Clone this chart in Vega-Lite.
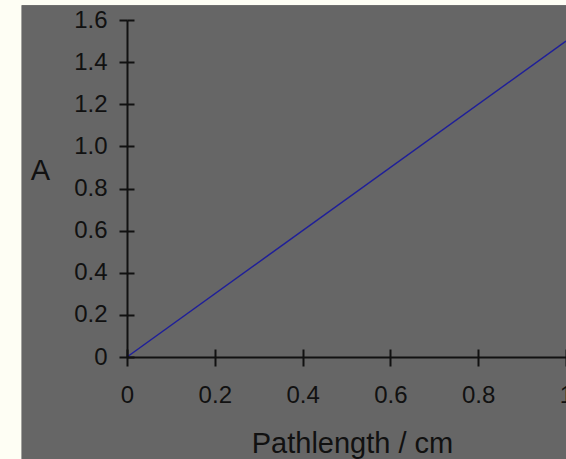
{
  "$schema": "https://vega.github.io/schema/vega-lite/v6.json",
  "width": 439,
  "height": 337,
  "autosize": {"type": "none"},
  "padding": {"left": 127, "top": 20, "right": 0, "bottom": 102},
  "background": "#fefef4",
  "config": {
    "view": {"stroke": null},
    "axis": {
      "zindex": 1,
      "labelFont": "Liberation Sans",
      "titleFont": "Liberation Sans",
      "labelFontSize": 24,
      "titleFontSize": 29,
      "titleFontWeight": "normal",
      "labelColor": "#111111",
      "titleColor": "#111111",
      "domainColor": "#111111",
      "tickColor": "#111111",
      "domainWidth": 2,
      "tickWidth": 2,
      "grid": false
    }
  },
  "data": {"values": [
    {"pathlength": 0, "A": 0},
    {"pathlength": 1, "A": 1.5}
  ]},
  "resolve": {"axis": {"x": "independent", "y": "independent"}},
  "layer": [
    {
      "mark": {"type": "rect", "color": "#666666", "clip": false},
      "encoding": {
        "x": {"datum": -0.24, "type": "quantitative", "scale": {"domain": [0, 1], "nice": false, "zero": false},
              "axis": {"orient": "bottom", "zindex": 1, "tickSize": -8, "labels": false, "domain": false, "title": null, "values": [0, 0.2, 0.4, 0.6, 0.8, 1]}},
        "x2": {"datum": 1.1},
        "y": {"datum": -0.6, "type": "quantitative", "scale": {"domain": [0, 1.6], "nice": false, "zero": false},
              "axis": {"orient": "left", "zindex": 1, "tickSize": -7, "labels": false, "domain": false, "title": null, "values": [0, 0.2, 0.4, 0.6, 0.8, 1.0, 1.2, 1.4, 1.6]}},
        "y2": {"datum": 1.67}
      }
    },
    {
      "mark": {"type": "line", "color": "#1f1f99", "strokeWidth": 1.5},
      "encoding": {
        "x": {"field": "pathlength", "type": "quantitative",
              "scale": {"domain": [0, 1], "nice": false, "zero": false},
              "axis": {"orient": "bottom", "zindex": 1, "title": "Pathlength / cm", "tickSize": 9, "labelPadding": 17,
                       "values": [0, 0.2, 0.4, 0.6, 0.8, 1],
                       "labelExpr": "datum.value == 0 ? '0' : datum.value == 1 ? '1' : format(datum.value, '.1f')",
                       "labelFlush": false, "labelOverlap": false,
                       "titleX": 225, "titleY": 95, "titleAnchor": null, "titleAlign": "center", "titleBaseline": "alphabetic"}},
        "y": {"field": "A", "type": "quantitative",
              "scale": {"domain": [0, 1.6], "nice": false, "zero": false},
              "axis": {"orient": "left", "zindex": 1, "title": "A", "tickSize": 8, "labelPadding": 12,
                       "values": [0, 0.2, 0.4, 0.6, 0.8, 1.0, 1.2, 1.4, 1.6],
                       "labelExpr": "datum.value == 0 ? '0' : format(datum.value, '.1f')",
                       "labelFlush": false, "labelOverlap": false,
                       "titleAngle": 0, "titleX": -87, "titleY": 150, "titleAlign": "center", "titleBaseline": "middle"}}
      }
    }
  ]
}
